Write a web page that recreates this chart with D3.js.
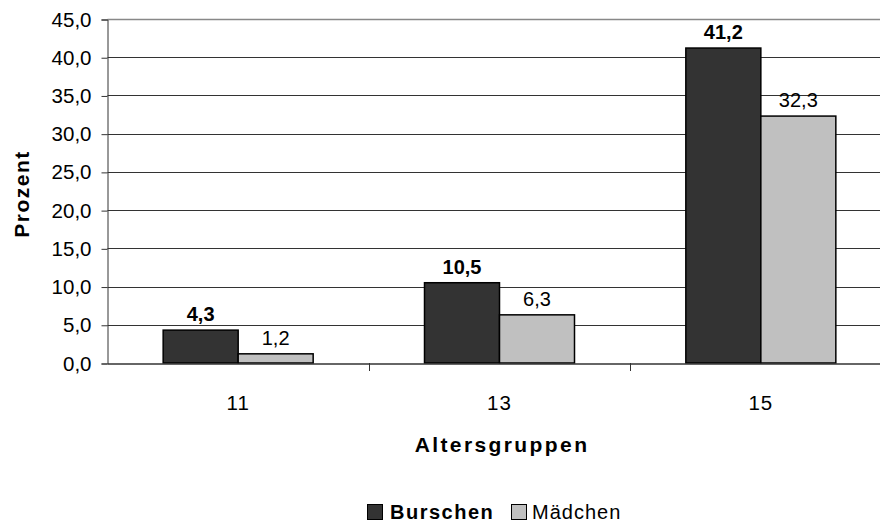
<!DOCTYPE html>
<html><head><meta charset="utf-8">
<script src="https://cdn.jsdelivr.net/npm/d3@7"></script>
<style>body{margin:0;background:#fff;overflow:hidden}svg{display:block}</style>
</head><body><svg id="c" width="880" height="524"></svg>
<script>
const categories = ["11", "13", "15"];
const seriesNames = ["Burschen", "Mädchen"];
const burschen = [4.3, 10.5, 41.2];
const maedchen = [1.2, 6.3, 32.3];
const yTicks = [0, 5, 10, 15, 20, 25, 30, 35, 40, 45];
const colors = ["#333333", "#c0c0c0"];

(function () {
const svg = d3.select("#c");
const font = "'Liberation Sans', Arial, sans-serif";
const pLeft = 107.5, pRight = 891.5, pTop = 19, pBottom = 363;
const x = d3.scaleBand().domain(categories).range([pLeft, pRight]);
const y = d3.scaleLinear().domain([0, 45]).range([pBottom, pTop]);
const barW = 75;

// gridlines
svg.append("g").selectAll("line").data(yTicks.slice(1)).join("line")
  .attr("x1", pLeft).attr("x2", pRight)
  .attr("y1", d => Math.round(y(d)) + 0.5).attr("y2", d => Math.round(y(d)) + 0.5)
  .attr("stroke", d => d === 45 ? "#888" : "#333").attr("stroke-width", d => d === 45 ? 1.5 : 1);

// y axis
const yAxis = d3.axisLeft(y).tickValues(yTicks).tickSize(6).tickPadding(10)
  .tickFormat(d => d3.format(".1f")(d).replace(".", ","));
const ya = svg.append("g").attr("transform", `translate(${pLeft},0.5)`).call(yAxis);
ya.select(".domain").attr("stroke", "#333");
ya.selectAll(".tick line").attr("stroke", "#333");
ya.selectAll("text").attr("font-family", font).attr("font-size", 20.5).attr("fill", "#000");

// bars
const data = categories.map((c, i) => [burschen[i], maedchen[i]]);
const groups = svg.append("g").selectAll("g").data(categories).join("g");
groups.each(function(c, i) {
  const g = d3.select(this);
  const cx = x(c) + x.bandwidth() / 2;
  data[i].forEach((v, s) => {
    const x0 = cx - barW + s * barW;
    g.append("rect").attr("x", x0).attr("y", y(v)).attr("width", barW).attr("height", y(0) - y(v))
      .attr("fill", colors[s]).attr("stroke", "#000").attr("stroke-width", 1.5);
    g.append("text").attr("x", x0 + barW / 2).attr("y", y(v) - 9)
      .attr("text-anchor", "middle").attr("font-family", font).attr("font-size", 20)
      .attr("font-weight", s === 0 ? "bold" : "normal")
      .text(d3.format(".1f")(v).replace(".", ","));
  });
});

// x axis
const xAxis = d3.axisBottom(x).tickSize(0).tickPadding(32);
const xa = svg.append("g").attr("transform", `translate(0,${pBottom + 0.5})`).call(xAxis);
xa.select(".domain").attr("stroke", "#333").attr("stroke-width", 1.5);
xa.selectAll("text").attr("font-family", font).attr("font-size", 20.5).attr("fill", "#000")
  .attr("letter-spacing", 1);
// category separators
svg.append("g").selectAll("line").data(categories.slice(1)).join("line")
  .attr("x1", d => Math.round(x(d)) + 0.5).attr("x2", d => Math.round(x(d)) + 0.5)
  .attr("y1", pBottom).attr("y2", pBottom + 8).attr("stroke", "#333");

// axis titles
svg.append("text").attr("transform", `translate(29,${(pTop + pBottom) / 2 + 3}) rotate(-90)`)
  .attr("text-anchor", "middle").attr("font-family", font).attr("font-size", 21)
  .attr("letter-spacing", 1.5).attr("font-weight", "bold").text("Prozent");
svg.append("text").attr("x", 502).attr("y", 452).attr("text-anchor", "middle")
  .attr("font-family", font).attr("font-size", 21).attr("letter-spacing", 2.4)
  .attr("font-weight", "bold").text("Altersgruppen");

// legend
const lg = svg.append("g").attr("transform", "translate(367,504)");
lg.append("rect").attr("x", 0.5).attr("y", 0.5).attr("width", 15).attr("height", 15)
  .attr("fill", colors[0]).attr("stroke", "#000");
lg.append("text").attr("x", 23).attr("y", 15).attr("font-family", font).attr("font-size", 20)
  .attr("letter-spacing", 1.5).attr("font-weight", "bold").text(seriesNames[0]);
lg.append("rect").attr("x", 144.5).attr("y", 0.5).attr("width", 15).attr("height", 15)
  .attr("fill", colors[1]).attr("stroke", "#000");
lg.append("text").attr("x", 165).attr("y", 15).attr("font-family", font).attr("font-size", 20)
  .attr("letter-spacing", 1).text(seriesNames[1]);
})();
</script></body></html>
